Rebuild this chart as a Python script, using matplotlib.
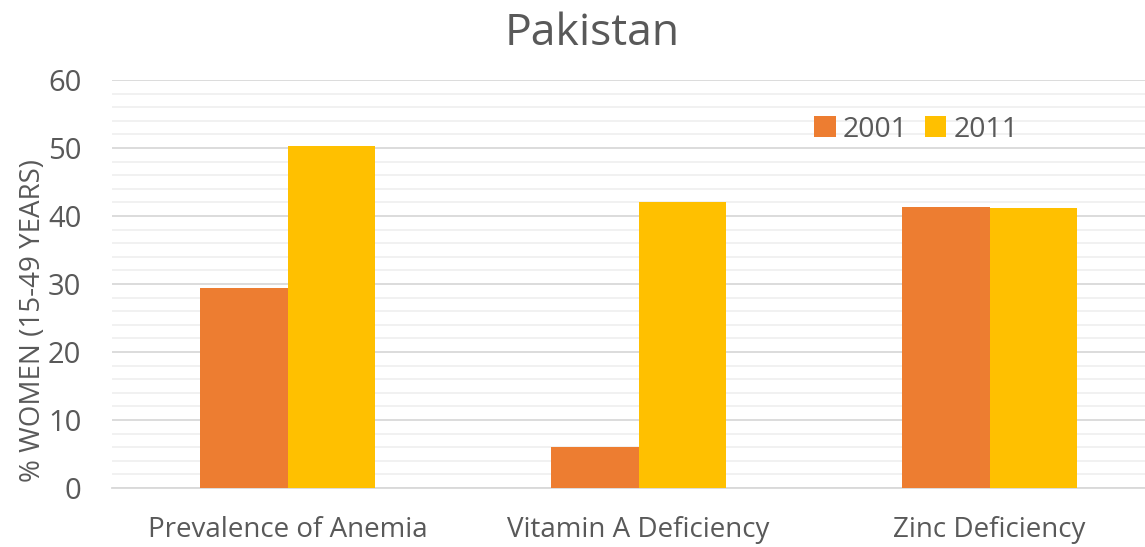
import numpy as np
import matplotlib.pyplot as plt
from matplotlib.ticker import MultipleLocator

plt.rcParams['font.family'] = ['Open Sans', 'DejaVu Sans']

categories = ['Prevalence of Anemia', 'Vitamin A Deficiency', 'Zinc Deficiency']
vals_2001 = [29.4, 6.0, 41.3]
vals_2011 = [50.3, 42.1, 41.2]
series_names = ['2001', '2011']

grey = '#595959'
fig = plt.figure(figsize=(11.45, 5.47), dpi=100)
ax = fig.add_axes([112/1145, 1 - 488/547, 1 - 112/1145, (488-80)/547])

x = np.arange(len(categories))
w = 0.25
ax.bar(x - w/2, vals_2001, w, color='#ED7D31', label=series_names[0], zorder=3)
ax.bar(x + w/2, vals_2011, w, color='#FFC000', label=series_names[1], zorder=3)

ax.set_xlim(-0.5, 2.5 - 20/351)
ax.set_ylim(0, 60)
ax.yaxis.set_major_locator(MultipleLocator(10))
ax.yaxis.set_minor_locator(MultipleLocator(2))
ax.grid(which='major', axis='y', color='#d9d9d9', lw=1.3, zorder=0)
ax.grid(which='minor', axis='y', color='#f0f0f0', lw=1.3, zorder=0)
for s in ['top', 'right', 'left']:
    ax.spines[s].set_visible(False)
ax.spines['bottom'].set_color('#d9d9d9')
ax.spines['bottom'].set_linewidth(1.3)
ax.tick_params(which='both', length=0)
ax.tick_params(axis='y', labelsize=21, colors=grey, pad=22)
ax.tick_params(axis='x', labelsize=20, colors=grey, pad=20)
ax.set_xticks(x)
ax.set_xticklabels(categories)
ax.set_ylabel('% WOMEN (15-49 YEARS)', fontsize=20, color=grey)
ax.yaxis.set_label_coords(-0.063, 0.41)
fig.text(592/1145, 1 - 45/547, 'Pakistan', fontsize=32, color=grey,
         ha='center', va='baseline')

leg = ax.legend(loc='upper left', bbox_to_anchor=(0.655, 0.975), ncol=2, frameon=False,
                fontsize=20.5, handlelength=0.75, handleheight=0.75, handletextpad=0.25,
                columnspacing=0.6, labelcolor=grey)

fig.savefig('out.png', dpi=100)
